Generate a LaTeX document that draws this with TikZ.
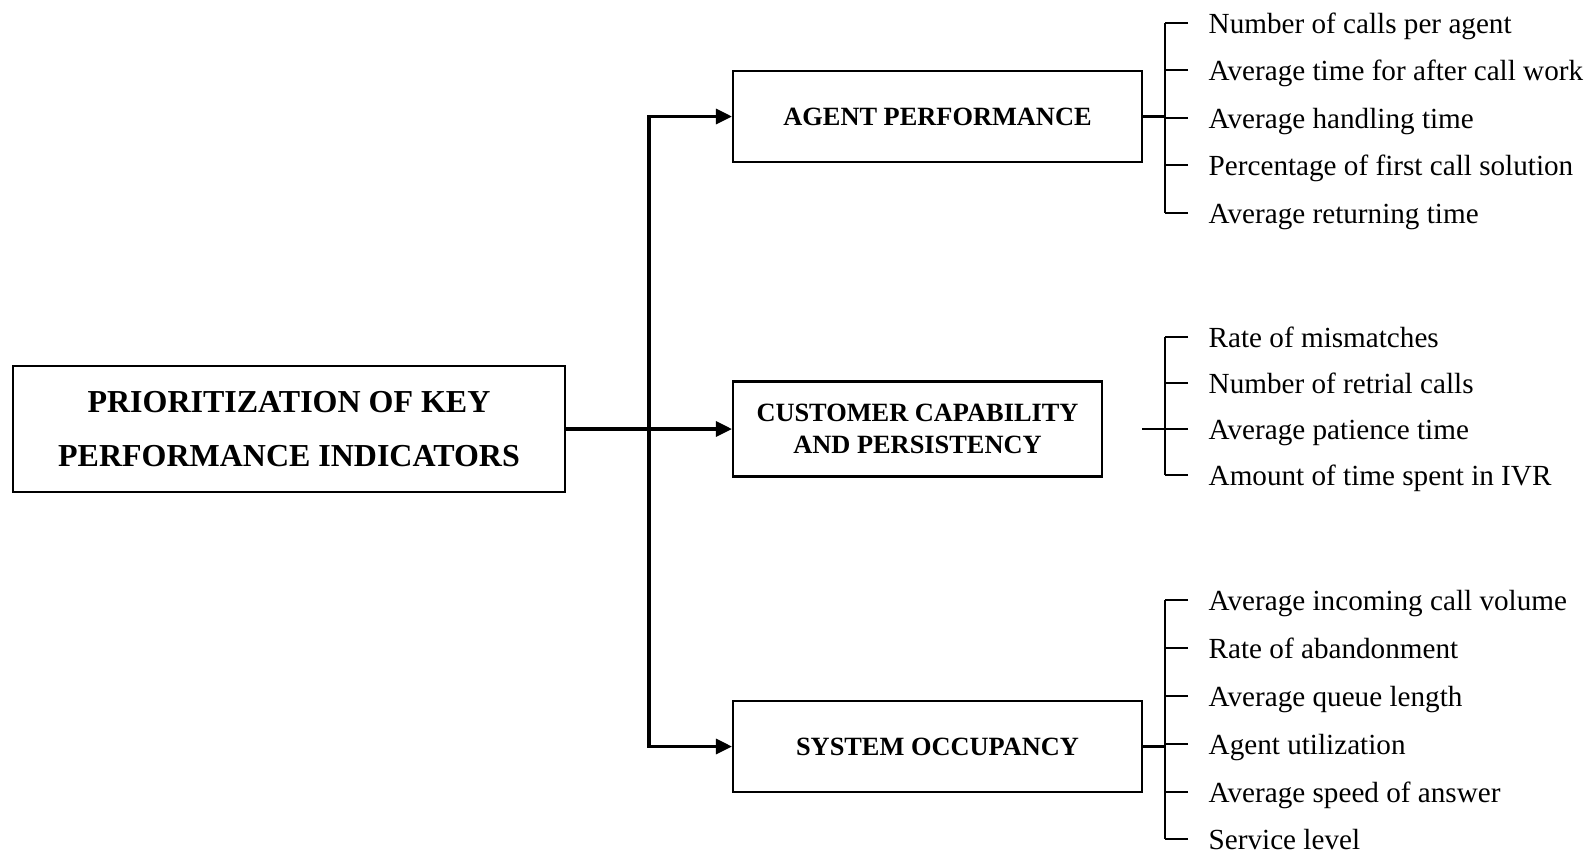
\documentclass[tikz,border=0pt]{standalone}
\usepackage{fontspec}
\setmainfont{Liberation Serif}
\usetikzlibrary{arrows.meta}

\begin{document}
\begin{tikzpicture}[
	box/.style={draw, line width=0.6pt, minimum height=0.91cm, inner sep=0, align=center, font=\bfseries\fontsize{7.5}{9}\selectfont},
	link/.style={line width=0.9pt, -{Triangle[length=0.16cm,width=0.15cm]}},
	brace/.style={line width=0.7pt},
	leaf/.style={anchor=west, inner xsep=0.2cm, inner ysep=0, text height=0.65em, text depth=0.05em, font=\fontsize{8.3}{10}\selectfont}
]
	\useasboundingbox (0,0) rectangle (15.96,-8.57);
	% main box on the left
	\node[box, minimum width=5.52cm, minimum height=1.26cm, font=\bfseries\fontsize{9.1}{15.6}\selectfont] (kpi) at (2.89,-4.29) {PRIORITIZATION OF KEY\\PERFORMANCE INDICATORS};
	% the three groups
	\node[box, minimum width=4.09cm] (agent) at (9.375,-1.165) {AGENT PERFORMANCE};
	\node[box, minimum width=3.69cm, minimum height=0.95cm] (cust) at (9.175,-4.29) {CUSTOMER CAPABILITY\\AND PERSISTENCY};
	\node[box, minimum width=4.09cm] (sys) at (9.375,-7.465) {SYSTEM OCCUPANCY};
	% arrows from the main box
	\coordinate (split) at (6.49,-4.29);
	\draw[link] (kpi.east) -- (cust.west);
	\draw[link] (split) |- (agent.west);
	\draw[link] (split) |- (sys.west);
	% agent performance indicators
	\foreach \y/\n/\t in {0.23/a1/Number of calls per agent, 0.70/a2/Average time for after call work, 1.18/a3/Average handling time, 1.65/a4/Percentage of first call solution, 2.13/a5/Average returning time} {
		\node[leaf] (\n) at (11.88,-\y) {\t};
		\draw[brace] (\n.west) -- ++(-0.23,0);
	}
	\draw[brace] ([xshift=-0.23cm]a1.west) -- ([xshift=-0.23cm]a5.west);
	\draw[brace] (agent.east) -- ++(0.23,0);
	% customer capability indicators
	\foreach \y/\n/\t in {3.37/c1/Rate of mismatches, 3.83/c2/Number of retrial calls, 4.29/c3/Average patience time, 4.75/c4/Amount of time spent in IVR} {
		\node[leaf] (\n) at (11.88,-\y) {\t};
		\draw[brace] (\n.west) -- ++(-0.23,0);
	}
	\draw[brace] ([xshift=-0.23cm]c1.west) -- ([xshift=-0.23cm]c4.west);
	\draw[brace] ([xshift=-0.46cm]c3.west) -- (c3.west);
	% system occupancy indicators
	\foreach \y/\n/\t in {6.00/s1/Average incoming call volume, 6.48/s2/Rate of abandonment, 6.96/s3/Average queue length, 7.44/s4/Agent utilization, 7.92/s5/Average speed of answer, 8.39/s6/Service level} {
		\node[leaf] (\n) at (11.88,-\y) {\t};
		\draw[brace] (\n.west) -- ++(-0.23,0);
	}
	\draw[brace] ([xshift=-0.23cm]s1.west) -- ([xshift=-0.23cm]s6.west);
	\draw[brace] (sys.east) -- ++(0.23,0);
\end{tikzpicture}
\end{document}
